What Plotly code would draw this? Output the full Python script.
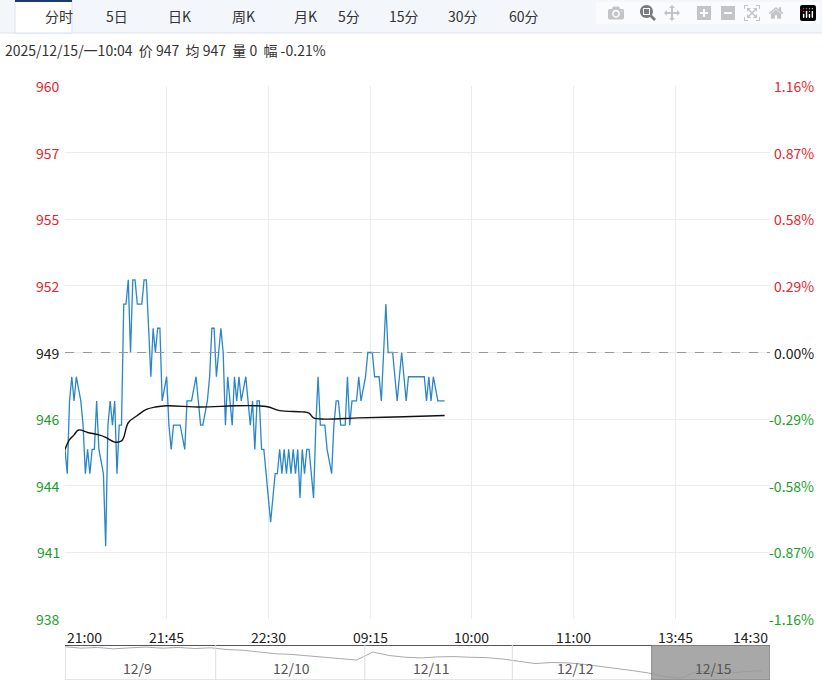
import plotly.graph_objects as go

# ---- data ----
minutes = [0,1,2,3,4,5,7,8,9,10,11,12,13,14,15,17,18,19,20,21,22,23,24,25,26,27,28,29,30,31,32,34,35,36,37,38,39,40,41,42,43,45,46,47,48,51,53,54,56,58,59,60,61,63,64,65,66,67,68,69,70,71,72,74,75,76,77,78,80,81,82,83,84,85,86,87,88,90,91,93,94,95,96,97,98,99,100,101,102,103,104,105,106,107,108,110,111,112,113,115,116,118,119,120,121,122,124,125,126,127,129,130,131,133,134,136,137,139,140,142,143,145,147,149,151,152,153,159,160,161,162,163,165,168]
prices = [945,944,947,948,947,948,947,946,944,945,944,945,945,947,945,944,941,946,947,946,947,944,946,946,951,951,952,949,952,952,951,951,952,952,950,948,950,949,950,950,947,948,946,945,946,946,945,947,947,948,947,946,946,947,948,950,950,948,949,950,949,946,948,946,948,947,948,947,948,947,946,947,945,947,947,945,945,943,942,944,944,945,944,945,944,945,944,945,944,945,943,945,944,945,945,943,946,948,946,946,945,944,946,947,947,946,946,948,946,947,947,948,947,948,949,949,948,948,947,951,949,949,947,949,947,948,948,948,947,948,947,948,947,947]
avg_min = [0,2,4,6,10,15,18,22,25,26,28,32,36,40,45,60,75,85,90,95,105,108,110,115,130,150,168]
avg_val = [945.0,945.4,945.6,945.8,945.7,945.6,945.5,945.3,945.35,945.5,946.1,946.4,946.65,946.75,946.8,946.75,946.8,946.8,946.75,946.6,946.55,946.5,946.3,946.25,946.3,946.35,946.4]
base = 949
tick_vals = [938.0,940.75,943.5,946.25,949.0,951.75,954.5,957.25,960.0]
tick_left = ["938","941","944","946","949","952","955","957","960"]
tick_right = ["-1.16%","-0.87%","-0.58%","-0.29%","0.00%","0.29%","0.58%","0.87%","1.16%"]
x_ticks = [0,45,90,135,180,225,270,312]
x_labels = ["21:00","21:45","22:30","09:15","10:00","11:00","13:45","14:30"]
nav_x = list(range(0,44))
nav_y = [9,8.6,8.8,8.4,8.7,8.9,8.6,8.8,8.5,8.7,8.2,8.0,7.5,7.0,6.8,6.3,6.0,5.6,5.2,7.5,6.5,6.0,5.8,6.1,6.2,6.0,5.9,5.5,4.8,4.2,4.5,4.4,4.0,3.5,2.8,2.2,1.5,0.5,0.0,2.0,1.7,1.5,1.9,2.2]
nav_days = ["12/9","12/10","12/11","12/12","12/15"]
nav_day_x = [4.5,14,22.6,31.5,40]
nav_div = [9.3,18.5,27.6]
tabs = ["分时","5日","日K","周K","月K","5分","15分","30分","60分"]
tabs_x = [43,104,166,230,292,349,404,463,524]

RED, GREEN = "#e8252c", "#1a9f2a"
W, H = 822, 683
fig = go.Figure()
fig.add_trace(go.Scatter(x=minutes, y=prices, mode="lines", line=dict(color="#2a86c8", width=1.3), hoverinfo="skip"))
fig.add_trace(go.Scatter(x=avg_min, y=avg_val, mode="lines", line=dict(color="#111", width=1.4, shape="spline"), hoverinfo="skip"))
fig.add_trace(go.Scatter(x=nav_x, y=nav_y, mode="lines", line=dict(color="#aaa", width=1), xaxis="x2", yaxis="y2", hoverinfo="skip"))

fig.update_layout(
    width=W, height=H, margin=dict(l=65, r=52, t=86, b=3), plot_bgcolor="white", paper_bgcolor="white",
    showlegend=False, font=dict(family="Noto Sans CJK SC, Noto Sans", size=14),
    xaxis=dict(range=[0,312], tickvals=x_ticks[1:-1], showticklabels=False, gridcolor="#ececec", zeroline=False, showline=False),
    yaxis=dict(range=[938,960], domain=[0.1027,1], tickvals=tick_vals, showticklabels=False, gridcolor="#ececec", zeroline=False),
    xaxis2=dict(range=[0,43.5], anchor="y2", visible=False),
    yaxis2=dict(range=[-0.5,9.5], domain=[0,0.0589], anchor="x2", visible=False),
)
shapes = [
    dict(type="rect", xref="paper", yref="paper", x0=-65/705, x1=(705+52)/705, y0=1+53/594, y1=1+86/594, fillcolor="#f3f6fb", line_width=0, layer="below"),
    dict(type="line", xref="paper", yref="paper", x0=-65/705, x1=(705+52)/705, y0=1+53/594, y1=1+53/594, line=dict(color="#dbe3ee", width=1)),
    dict(type="rect", xref="paper", yref="paper", x0=-50/705, x1=7/705, y0=1+53/594, y1=1+86/594, fillcolor="white", line=dict(color="#dbe3ee", width=1)),
    dict(type="line", xref="paper", yref="paper", x0=-50/705, x1=7/705, y0=1+85/594, y1=1+85/594, line=dict(color="#1e3a6e", width=2)),
    dict(type="line", xref="x", yref="y", x0=0, x1=312, y0=base, y1=base, line=dict(color="#999", width=1, dash="dash")),
    dict(type="rect", xref="x2", yref="y2", x0=0, x1=43.5, y0=-0.5, y1=9.5, line=dict(color="#ccc", width=1)),
    dict(type="line", xref="x2", yref="y2", x0=0, x1=43.5, y0=9.5, y1=9.5, line=dict(color="#555", width=2)),
    dict(type="rect", xref="x2", yref="y2", x0=36.2, x1=43.5, y0=-0.5, y1=9.5, fillcolor="#999", opacity=0.85, line=dict(color="#777", width=1)),
]
for d in nav_div:
    shapes.append(dict(type="line", xref="x2", yref="y2", x0=d, x1=d, y0=-0.5, y1=9.5, line=dict(color="#ddd", width=1)))
fig.update_layout(shapes=shapes)

ann = []
for t, xp in zip(tabs, tabs_x):
    ann.append(dict(text=t, x=(xp-65)/705, y=1+70/594, xref="paper", yref="paper", yanchor="middle", showarrow=False, font=dict(size=14, color="#333")))
ann.append(dict(text="2025/12/15/一10:04  价 947  均 947  量 0  幅 -0.21%", x=-62/705, y=1+36/594, xref="paper", yref="paper",
                xanchor="left", yanchor="middle", showarrow=False, font=dict(size=14, color="#333")))
for v, l, r in zip(tick_vals, tick_left, tick_right):
    c = RED if v > base else (GREEN if v < base else "#222")
    ann.append(dict(text=l, x=-3/705, y=v, xref="paper", yref="y", xanchor="right", yanchor="middle", showarrow=False, font=dict(size=14, color=c)))
    ann.append(dict(text=r, x=(705+46)/705, y=v, xref="paper", yref="y", xanchor="right", yanchor="middle", showarrow=False, font=dict(size=14, color=c)))
for i, (v, l) in enumerate(zip(x_ticks, x_labels)):
    xa = "left" if i == 0 else ("right" if i == len(x_ticks)-1 else "center")
    ann.append(dict(text=l, x=v, y=0.1027, xref="x", yref="paper", yshift=-18, xanchor=xa, yanchor="middle", showarrow=False, font=dict(size=14, color="#222")))
for d, xp in zip(nav_days, nav_day_x):
    ann.append(dict(text=d, x=xp, y=3, xref="x2", yref="y2", yanchor="middle", showarrow=False, font=dict(size=14, color="#555")))
fig.update_layout(annotations=ann)
fig.write_html("out.html")
with open("out.html", encoding="utf-8") as f:
    html = f.read()
html = html.replace("<head>", "<head><style>html,body{margin:0;padding:0;overflow:hidden}</style>", 1)
with open("out.html", "w", encoding="utf-8") as f:
    f.write(html)
